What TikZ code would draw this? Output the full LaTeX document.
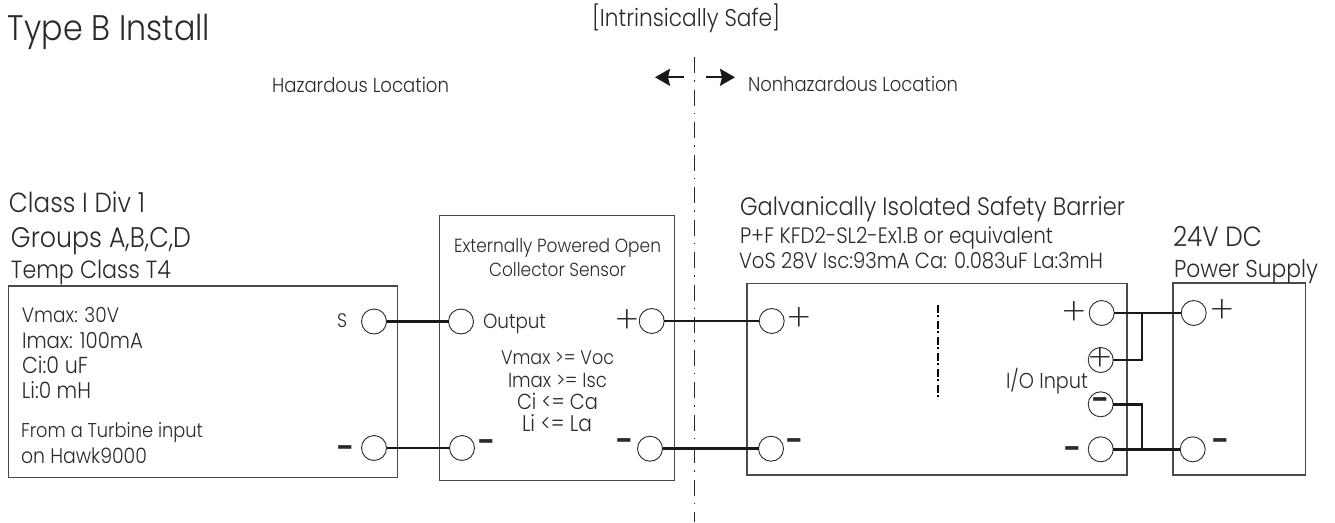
\documentclass[tikz,border=0pt]{standalone}
\usepackage{graphicx}
\usepackage{fontspec}
\setmainfont{Poppins Light}
\newfontfamily\plusfont{Poppins ExtraLight}
\newfontfamily\minusfont{Poppins SemiBold}
\usetikzlibrary{arrows.meta}
\definecolor{ink}{HTML}{2A2A2A}
\newcommand{\fitw}[2]{\scalebox{1}[1.12]{\resizebox{#1pt}{!}{#2}}}
\tikzset{
  lbl/.style={anchor=base west,inner sep=0pt,outer sep=0pt,text=ink},
  sym/.style={anchor=center,inner sep=0pt,outer sep=0pt,text=ink,font=\plusfont\fontsize{38}{38}\selectfont},
  dashsym/.style={anchor=center,inner sep=0pt,outer sep=0pt,text=ink,font=\minusfont\fontsize{31}{31}\selectfont},
  boxshape/.style={draw=ink!85,line width=1.3pt,fill=none},
  term/.style={circle,draw=ink,line width=0.9pt,minimum size=25pt,inner sep=0pt,outer sep=0pt},
  wire/.style={draw=black!90,line width=2.8pt},
  thinwire/.style={draw=black!90,line width=2.4pt},
  arrowline/.style={draw=black!90,line width=2.3pt,-{Stealth[length=15pt,width=17pt,inset=2pt]}},
  border/.style={draw=ink,line width=1pt,dash pattern=on 16pt off 7pt on 1.5pt off 8pt},
  midbar/.style={draw=black,line width=2pt,dash pattern=on 7.7pt off 2.3pt on 2pt off 4pt}
}
\begin{document}
\begin{tikzpicture}[x=1pt,y=-1pt]
\useasboundingbox (0,0) rectangle (1335,522);
% boxes
\draw[boxshape] (8.5,286) rectangle (397.7,477.7);
\draw[boxshape] (439.3,215.7) rectangle (674.3,480.3);
\draw[boxshape] (747,283.3) rectangle (1127,475);
\draw[boxshape] (1173,283) rectangle (1305.7,475);
% boundary
\coordinate (bt) at (694.7,57);
\coordinate (bb) at (694.7,522);
\draw[border] (bt) -- (bb);
\coordinate (la) at (684,77.3);
\coordinate (lb) at (655,77.3);
\coordinate (ra) at (706,77.3);
\coordinate (rb) at (735,77.3);
\draw[arrowline] (la) -- (lb);
\draw[arrowline] (ra) -- (rb);
\coordinate (ma) at (938,305);
\coordinate (mb) at (938,397);
\draw[midbar] (ma) -- (mb);
% terminals
\node[term] (s1) at (374,321.5) {};
\node[term] (m1) at (374,448) {};
\node[term] (s2) at (461,321.5) {};
\node[term] (p2) at (651.7,321) {};
\node[term] (m2) at (462,448) {};
\node[term] (n2) at (650,448.7) {};
\node[term] (p3) at (771.7,321) {};
\node[term] (m3) at (771,448.7) {};
\node[term] (p4) at (1101.7,313) {};
\node[term] (q4) at (1100.7,360) {};
\node[term] (r4) at (1100.7,404.3) {};
\node[term] (m4) at (1100.7,449.3) {};
\node[term] (p5) at (1193.7,313) {};
\node[term] (m5) at (1192.7,449.3) {};
% wires
\draw[wire] (s1) -- (s2);
\draw[thinwire] (m1) -- (m2);
\draw[thinwire] (p2) -- (p3);
\draw[wire] (n2) -- (m3);
\draw[thinwire] (p4) -- (p5);
\draw[thinwire] (m4) -- (m5);
\coordinate (j1) at (1142,313);
\coordinate (j2) at (1142,449.3);
\draw[thinwire] (q4.east) -| (j1);
\draw[thinwire] (r4.east) -| (j2);
% text
\node[lbl] at (8,40) {\fitw{202}{Type B Install}};
\node[lbl] at (592,27) {\fitw{188}{[Intrinsically Safe]}};
\node[lbl] at (272,92) {\fitw{177}{Hazardous Location}};
\node[lbl] at (748,91) {\fitw{210}{Nonhazardous Location}};
\node[lbl] at (9,212) {\fitw{136}{Class I Div 1}};
\node[lbl] at (11,247) {\fitw{180}{Groups A,B,C,D}};
\node[lbl] at (11,278) {\fitw{160}{Temp Class T4}};
\node[lbl] at (22,322) {\fitw{97}{Vmax: 30V}};
\node[lbl] at (22,348) {\fitw{121}{Imax: 100mA}};
\node[lbl] at (22,373) {\fitw{66}{Ci:0 uF}};
\node[lbl] at (22,398) {\fitw{69}{Li:0 mH}};
\node[lbl] at (21,437) {\fitw{182}{From a Turbine input}};
\node[lbl] at (21,463) {\fitw{126}{on Hawk9000}};
\node[lbl] at (337,327) {\fitw{10}{S}};
\node[lbl] at (454,252) {\fitw{207}{Externally Powered Open}};
\node[lbl] at (489,276) {\fitw{137}{Collector Sensor}};
\node[lbl] at (483,328) {\fitw{63}{Output}};
\node[lbl] at (501,364) {\fitw{113}{Vmax >= Voc}};
\node[lbl] at (508,387) {\fitw{99}{Imax >= Isc}};
\node[lbl] at (517,409) {\fitw{81}{Ci <= Ca}};
\node[lbl] at (522,431) {\fitw{70}{Li <= La}};
\node[lbl] at (740,215) {\fitw{385}{Galvanically Isolated Safety Barrier}};
\node[lbl] at (740,243) {\fitw{313}{P+F KFD2-SL2-Ex1.B or equivalent}};
\node[lbl] at (739,268) {\fitw{364}{VoS 28V Isc:93mA Ca: 0.083uF La:3mH}};
\node[lbl] at (1173,246) {\fitw{89}{24V DC}};
\node[lbl] at (1174,277) {\fitw{144}{Power Supply}};
\node[lbl] at (1006,388) {\fitw{82}{I/O Input}};
% signs
\node[dashsym] at (346,452) {-};
\node[dashsym] at (487,446) {-};
\node[dashsym] at (625,445) {-};
\node[dashsym] at (795,445) {-};
\node[dashsym] at (1073,453) {-};
\node[dashsym] at (1221,445) {-};
\node[sym] at (627,322) {+};
\node[sym] at (799,320) {+};
\node[sym] at (1074,314) {+};
\node[sym] at (1222,312) {+};
\node[sym] at (q4) {+};
\node[dashsym] at (r4) {-};
\end{tikzpicture}
\end{document}
